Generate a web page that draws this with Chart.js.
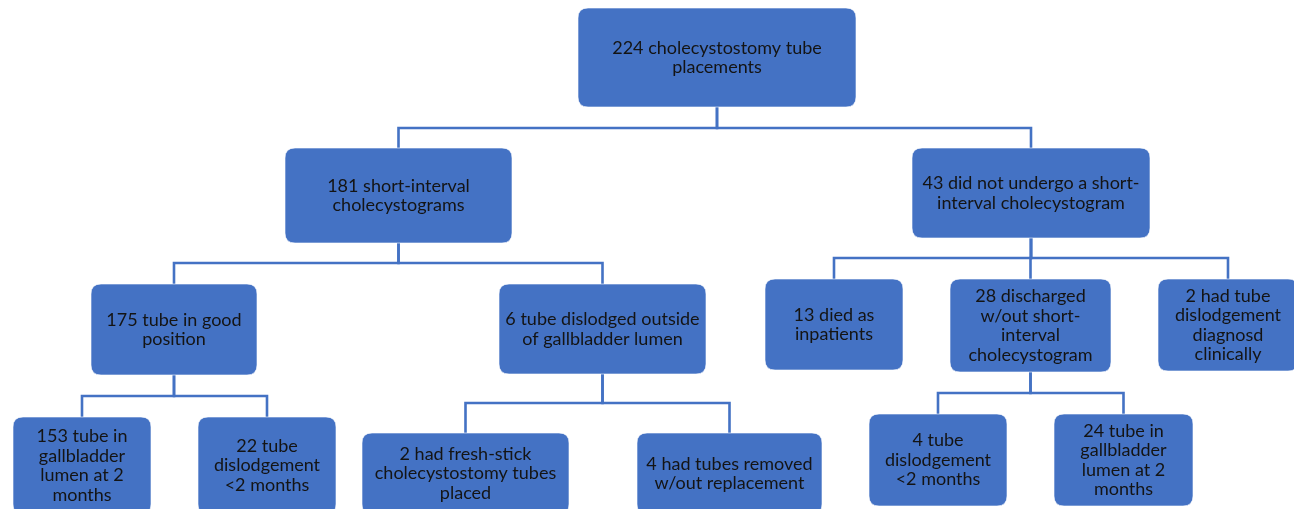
<!DOCTYPE html>
<html>
<head>
<meta charset="utf-8">
<script src="https://cdn.jsdelivr.net/npm/chart.js@4/dist/chart.umd.min.js"></script>
<style>
	html, body { margin: 0; padding: 0; background: #ffffff; }
	#flow { display: block; }
</style>
</head>
<body>
<canvas id="flow" width="1294" height="509"></canvas>
<script>
// Patient counts and the wording of each box
var counts = [224, 181, 43, 175, 6, 13, 28, 2, 153, 22, 2, 4, 4, 24];
var labelLines = [
	['cholecystostomy tube', 'placements'],
	['short-interval', 'cholecystograms'],
	['did not undergo a short-', 'interval cholecystogram'],
	['tube in good', 'position'],
	['tube dislodged outside', 'of gallbladder lumen'],
	['died as', 'inpatients'],
	['discharged', 'w/out short-', 'interval', 'cholecystogram'],
	['had tube', 'dislodgement', 'diagnosd', 'clinically'],
	['tube in', 'gallbladder', 'lumen at 2', 'months'],
	['tube', 'dislodgement', '<2 months'],
	['had fresh-stick', 'cholecystostomy tubes', 'placed'],
	['had tubes removed', 'w/out replacement'],
	['tube', 'dislodgement', '<2 months'],
	['tube in', 'gallbladder', 'lumen at 2', 'months']
];
// index of the box each one branches from (-1 = top)
var parents = [-1, 0, 0, 1, 1, 2, 2, 2, 3, 3, 4, 4, 6, 6];

// Layout, in axis units (axes run 0..1294 across and 0..509 down)
var layout = {
	left:   [578, 285, 912,  91, 499, 765, 950, 1158,  13, 198, 362, 637, 869, 1054],
	right:  [856, 512, 1150, 257, 706, 903, 1111, 1298, 151, 336, 569, 822, 1007, 1193],
	top:    [8, 148, 148, 284, 284, 279, 279, 279, 417, 417, 433, 433, 414, 414],
	bottom: [107, 243, 238, 375, 374, 370, 372, 371, 514, 514, 514, 514, 506, 506],
	// height of the horizontal bar under each parent
	bus:    { 0: 128, 1: 263, 2: 258, 3: 396, 4: 403, 6: 393 }
};

var blue = '#4472C4';
var lineBlue = '#4472C4';

function boxText(i) {
	var lines = labelLines[i].slice();
	lines[0] = counts[i] + ' ' + lines[0];
	return lines;
}

function centerX(i) {
	return (layout.left[i] + layout.right[i]) / 2;
}

// One elbow connector per child
var connectorSets = [];
for (var i = 0; i < parents.length; i++) {
	var p = parents[i];
	if (p < 0) { continue; }
	var busY = layout.bus[p];
	connectorSets.push({
		type: 'scatter',
		showLine: true,
		data: [
			{ x: centerX(p), y: layout.bottom[p] },
			{ x: centerX(p), y: busY },
			{ x: centerX(i), y: busY },
			{ x: centerX(i), y: layout.top[i] }
		],
		borderColor: lineBlue,
		borderWidth: 2.6,
		pointRadius: 0,
		tension: 0,
		clip: false
	});
}

function roundRect(ctx, x, y, w, h, r) {
	ctx.beginPath();
	ctx.moveTo(x + r, y);
	ctx.lineTo(x + w - r, y);
	ctx.quadraticCurveTo(x + w, y, x + w, y + r);
	ctx.lineTo(x + w, y + h - r);
	ctx.quadraticCurveTo(x + w, y + h, x + w - r, y + h);
	ctx.lineTo(x + r, y + h);
	ctx.quadraticCurveTo(x, y + h, x, y + h - r);
	ctx.lineTo(x, y + r);
	ctx.quadraticCurveTo(x, y, x + r, y);
	ctx.closePath();
}

var boxPlugin = {
	id: 'flowBoxes',
	afterDatasetsDraw: function (chart) {
		var ctx = chart.ctx;
		var xs = chart.scales.x;
		var ys = chart.scales.y;
		ctx.save();
		for (var i = 0; i < counts.length; i++) {
			var x0 = xs.getPixelForValue(layout.left[i]);
			var x1 = xs.getPixelForValue(layout.right[i]);
			var y0 = ys.getPixelForValue(layout.top[i]);
			var y1 = ys.getPixelForValue(layout.bottom[i]);
			roundRect(ctx, x0, y0, x1 - x0, y1 - y0, 10);
			ctx.fillStyle = blue;
			ctx.fill();
			ctx.lineWidth = 1;
			ctx.strokeStyle = 'rgba(255,255,255,0.6)';
			ctx.stroke();

			var lines = boxText(i);
			var lh = 19.5;
			var cx = (x0 + x1) / 2;
			var cy = (y0 + y1) / 2;
			var startY = cy - (lines.length - 1) * lh / 2;
			ctx.fillStyle = '#141414';
			ctx.font = '18px Lato, "Open Sans", sans-serif';
			ctx.textAlign = 'center';
			ctx.textBaseline = 'middle';
			for (var j = 0; j < lines.length; j++) {
				ctx.fillText(lines[j], cx, startY + j * lh);
			}
		}
		ctx.restore();
	}
};

var chart = new Chart(document.getElementById('flow'), {
	type: 'scatter',
	data: { datasets: connectorSets },
	options: {
		responsive: false,
		animation: false,
		layout: { padding: 0 },
		plugins: {
			legend: { display: false },
			tooltip: { enabled: false }
		},
		scales: {
			x: { type: 'linear', min: 0, max: 1294, display: false },
			y: { type: 'linear', min: 0, max: 509, reverse: true, display: false }
		}
	},
	plugins: [boxPlugin]
});
</script>
</body>
</html>
